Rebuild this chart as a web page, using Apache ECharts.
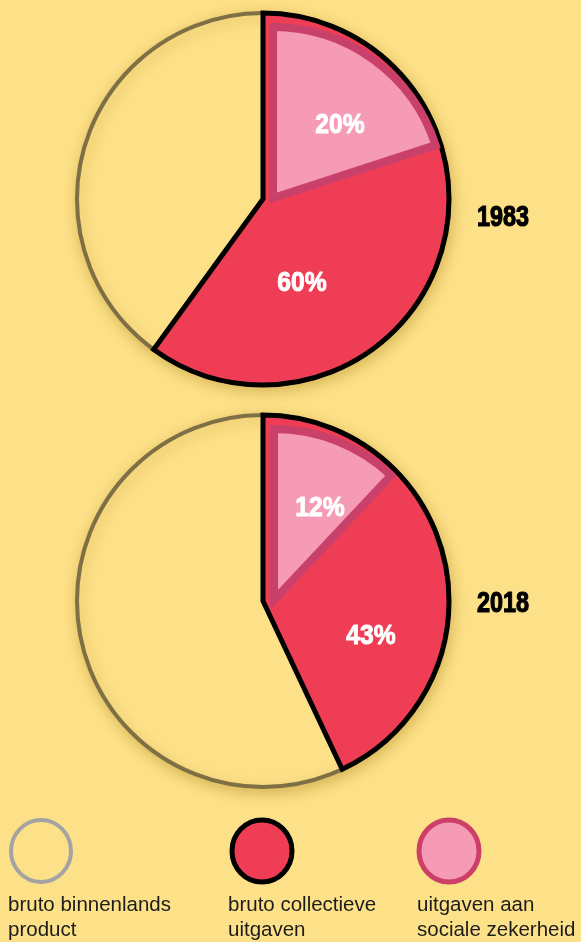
<!DOCTYPE html>
<html>
<head>
<meta charset="utf-8">
<script src="https://cdn.jsdelivr.net/npm/echarts@6/dist/echarts.min.js"></script>
<style>
html,body{margin:0;padding:0;background:#fde188;}
#c{width:581px;height:942px;}
</style>
</head>
<body>
<div id="c"></div>
<script>
// ---- data ----
const years = ['1983', '2018'];
const collectieveUitgaven = [60, 43];   // % of bbp
const socialeZekerheid = [20, 12];      // % of bbp
const seriesNames = ['bruto binnenlands product', 'bruto collectieve uitgaven', 'uitgaven aan sociale zekerheid'];
const legendLines = [['bruto binnenlands', 'product'], ['bruto collectieve', 'uitgaven'], ['uitgaven aan', 'sociale zekerheid']];

// ---- styling / layout ----
const BG = '#fde188', RED = '#ef3d55', PINK = '#f59bb5', DPINK = '#c9416a', BROWN = '#7e6f45';
const BOLD = '"Liberation Sans", Arial, sans-serif';
const centers = [[263, 199], [263, 601]];
const R = 186;
const pinkCenters = [[273, 198], [274, 600]];
const pinkR = 171;
const pinkLabelPos = [[340, 125], [320, 508]];
const redLabelPos = [[302, 283], [371, 636]];
const yearPos = [[503, 218], [503, 604]];
const legendX = [41, 262, 449];
const legendTextX = [8, 228, 417];

const chart = echarts.init(document.getElementById('c'), null, {renderer: 'canvas'});
const series = [];
const graphic = [];

years.forEach((y, i) => {
  series.push({
    type: 'pie', silent: true, center: centers[i], radius: R, startAngle: 90,
    label: {show: false}, labelLine: {show: false},
    data: [{value: 100, name: seriesNames[0],
      itemStyle: {color: BG, borderColor: BROWN, borderWidth: 4,
        shadowColor: 'rgba(150,110,0,0.35)', shadowBlur: 14, shadowOffsetX: 2, shadowOffsetY: 4}}]
  });
  series.push({
    type: 'pie', silent: true, center: centers[i], radius: R, startAngle: 90, clockwise: true,
    label: {show: false}, labelLine: {show: false},
    data: [
      {value: collectieveUitgaven[i], name: seriesNames[1],
        itemStyle: {color: RED, borderColor: '#000', borderWidth: 5, borderJoin: 'miter'}},
      {value: 100 - collectieveUitgaven[i], name: '',
        itemStyle: {color: 'rgba(0,0,0,0)', borderWidth: 0}}
    ]
  });
  series.push({
    type: 'pie', silent: true, center: pinkCenters[i], radius: pinkR, startAngle: 90, clockwise: true,
    label: {show: false}, labelLine: {show: false},
    data: [
      {value: socialeZekerheid[i], name: seriesNames[2],
        itemStyle: {color: PINK, borderColor: DPINK, borderWidth: 8, borderJoin: 'miter'}},
      {value: 100 - socialeZekerheid[i], name: '',
        itemStyle: {color: 'rgba(0,0,0,0)', borderWidth: 0}}
    ]
  });
  graphic.push({type: 'text', x: pinkLabelPos[i][0], y: pinkLabelPos[i][1], z: 100, scaleX: 0.88,
    style: {text: socialeZekerheid[i] + '%', fill: '#fff', stroke: '#fff', lineWidth: 1, font: 'bold 28px ' + BOLD, align: 'center', verticalAlign: 'middle'}});
  graphic.push({type: 'text', x: redLabelPos[i][0], y: redLabelPos[i][1], z: 100, scaleX: 0.88,
    style: {text: collectieveUitgaven[i] + '%', fill: '#fff', stroke: '#fff', lineWidth: 1, font: 'bold 28px ' + BOLD, align: 'center', verticalAlign: 'middle'}});
  graphic.push({type: 'text', x: yearPos[i][0], y: yearPos[i][1], z: 100, scaleX: 0.78,
    style: {text: y, fill: '#000', stroke: '#000', lineWidth: 1.2, font: 'bold 30px ' + BOLD, align: 'center', verticalAlign: 'middle'}});
});

// legend
const legendStyles = [
  {fill: 'rgba(0,0,0,0)', stroke: '#a3a3a3', lineWidth: 4},
  {fill: RED, stroke: '#000', lineWidth: 5},
  {fill: PINK, stroke: '#cc4068', lineWidth: 5}
];
legendX.forEach((x, k) => {
  graphic.push({type: 'ellipse', shape: {cx: x, cy: 851, rx: 30, ry: 31}, style: legendStyles[k]});
  legendLines[k].forEach((line, j) => {
    graphic.push({type: 'text', x: legendTextX[k], y: 905 + j * 25,
      style: {text: line, fill: '#1c1c1c', font: '20.5px "Liberation Sans", Arial, sans-serif', verticalAlign: 'middle'}});
  });
});

chart.setOption({
  backgroundColor: BG,
  animation: false,
  series: series,
  graphic: graphic
});
</script>
</body>
</html>
